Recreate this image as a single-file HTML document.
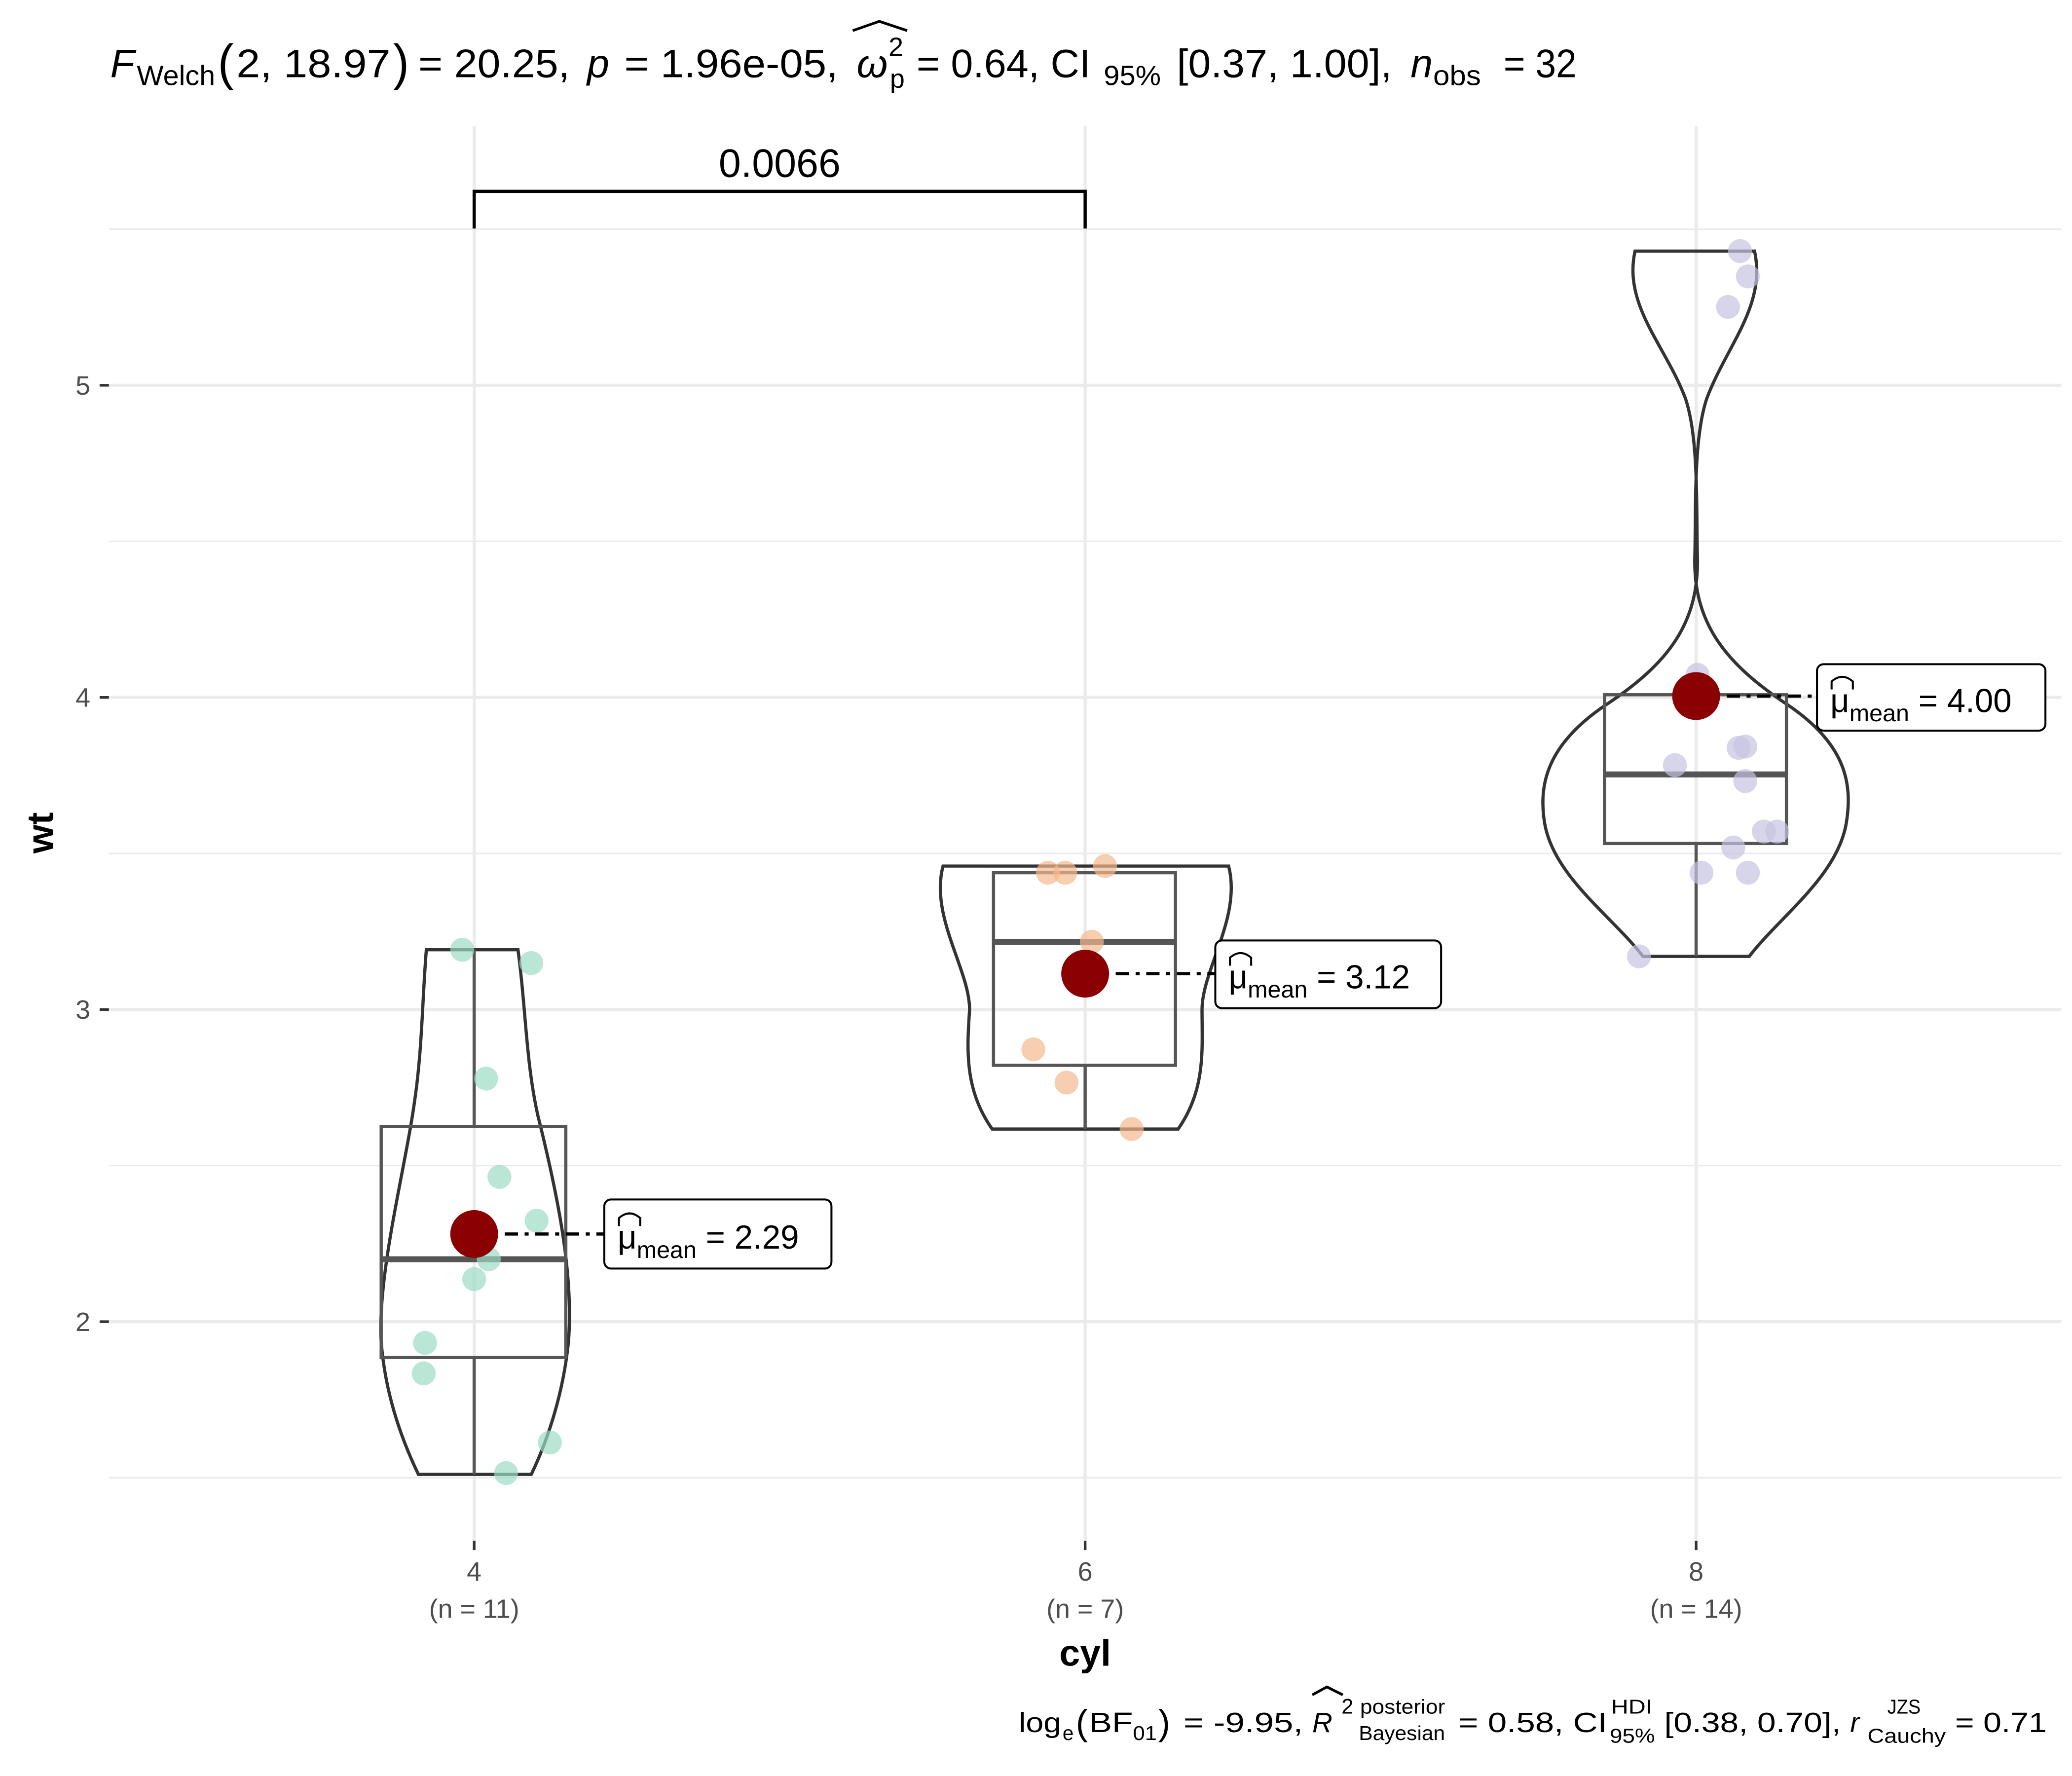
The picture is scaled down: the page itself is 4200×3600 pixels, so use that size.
<!DOCTYPE html>
<html><head><meta charset="utf-8"><style>html,body{margin:0;padding:0;background:#fff}svg{display:block}</style></head>
<body>
<svg width="4200" height="3600" viewBox="0 0 1560 1337" xmlns="http://www.w3.org/2000/svg" font-family="Liberation Sans, sans-serif">
<rect width="1560" height="1337" fill="#fff"/>
<g stroke="#ebebeb" stroke-width="1.2">
<line x1="82" x2="1552" y1="1112.5" y2="1112.5"/><line x1="82" x2="1552" y1="877.5" y2="877.5"/>
<line x1="82" x2="1552" y1="642.5" y2="642.5"/><line x1="82" x2="1552" y1="407.5" y2="407.5"/>
<line x1="82" x2="1552" y1="172.5" y2="172.5"/>
</g>
<g stroke="#ebebeb" stroke-width="2.4">
<line x1="82" x2="1552" y1="995" y2="995"/><line x1="82" x2="1552" y1="760" y2="760"/>
<line x1="82" x2="1552" y1="525" y2="525"/><line x1="82" x2="1552" y1="290" y2="290"/>
<line x1="357" x2="357" y1="95" y2="1160"/><line x1="817" x2="817" y1="95" y2="1160"/><line x1="1277" x2="1277" y1="95" y2="1160"/>
</g>
<g fill="none" stroke="#333" stroke-width="2.4">
<path d="M321,715 L390,715 C396,760 396,800 405,840 C420,900 432,960 428,1010 C424,1050 412,1085 400,1110 L315,1110 C303,1085 290,1050 287,1010 C284,960 305,880 312,830 C318,790 318,750 321,715 Z"/>
<path d="M710,652 L925,652 C935,690 905,730 905,760 C905,790 908,820 887,850 L747,850 C726,820 728,790 730,760 C730,730 700,690 710,652 Z"/>
<path d="M1231,189 L1321,189 C1330,230 1300,260 1285,300 C1275,330 1277,380 1276,420 C1275,470 1300,500 1345,530 C1390,560 1395,590 1390,620 C1383,660 1340,690 1317,720 L1237,720 C1214,690 1170,660 1163,620 C1158,590 1165,560 1210,530 C1255,500 1279,470 1278,420 C1277,380 1279,330 1269,300 C1254,260 1222,230 1231,189 Z"/>
</g>
<g fill="none" stroke="#555" stroke-width="2.4">
<rect x="287" y="848" width="139" height="174"/><line x1="357" x2="357" y1="715" y2="848"/><line x1="357" x2="357" y1="1022" y2="1110"/>
<rect x="748" y="657" width="137" height="145"/><line x1="817" x2="817" y1="802" y2="850"/>
<rect x="1208" y="523" width="137" height="112"/><line x1="1277" x2="1277" y1="635" y2="720"/>
</g>
<g stroke="#555" stroke-width="4.5">
<line x1="287" x2="426" y1="948" y2="948"/><line x1="748" x2="885" y1="709" y2="709"/><line x1="1208" x2="1345" y1="583" y2="583"/>
</g>
<g fill="#9ddbc4" fill-opacity="0.7">
<circle cx="348" cy="715" r="9"/><circle cx="400" cy="725" r="9"/><circle cx="366" cy="812" r="9"/><circle cx="376" cy="886" r="9"/><circle cx="404" cy="919" r="9"/><circle cx="368" cy="948" r="9"/><circle cx="357" cy="963" r="9"/><circle cx="320" cy="1011" r="9"/><circle cx="319" cy="1034" r="9"/><circle cx="414" cy="1086" r="9"/><circle cx="381" cy="1109" r="9"/>
</g>
<g fill="#f3b98f" fill-opacity="0.7">
<circle cx="789" cy="657" r="9"/><circle cx="802" cy="657" r="9"/><circle cx="832" cy="652" r="9"/><circle cx="822" cy="709" r="9"/><circle cx="778" cy="790" r="9"/><circle cx="803" cy="815" r="9"/><circle cx="852" cy="850" r="9"/>
</g>
<g fill="#c6c3e1" fill-opacity="0.7">
<circle cx="1310" cy="189" r="9"/><circle cx="1316" cy="208" r="9"/><circle cx="1301" cy="231" r="9"/><circle cx="1278" cy="508" r="9"/><circle cx="1309" cy="563" r="9"/><circle cx="1314" cy="562" r="9"/><circle cx="1261" cy="576" r="9"/><circle cx="1314" cy="588" r="9"/><circle cx="1328" cy="626" r="9"/><circle cx="1338" cy="626" r="9"/><circle cx="1305" cy="638" r="9"/><circle cx="1281" cy="657" r="9"/><circle cx="1316" cy="657" r="9"/><circle cx="1234" cy="720" r="9"/>
</g>
<g stroke="#000" stroke-width="2.4" stroke-dasharray="10,5,3,5">
<line x1="357" x2="455" y1="929" y2="929"/><line x1="817" x2="915" y1="733" y2="733"/><line x1="1277" x2="1368" y1="524" y2="524"/>
</g>
<g fill="#8b0000"><circle cx="357" cy="929" r="18"/><circle cx="817" cy="733" r="18"/><circle cx="1277" cy="524" r="18"/></g>
<g fill="#fff" stroke="#000" stroke-width="1.5">
<rect x="455" y="903" width="171" height="52" rx="5"/><rect x="915" y="708" width="170" height="51" rx="5"/><rect x="1368" y="500" width="172" height="50" rx="5"/>
</g>
<g font-size="25" fill="#000">
<text x="465" y="940">μ<tspan font-size="18" dy="7">mean</tspan><tspan dy="-7"> = 2.29</tspan></text>
<text x="925" y="744">μ<tspan font-size="18" dy="7">mean</tspan><tspan dy="-7"> = 3.12</tspan></text>
<text x="1378" y="536">μ<tspan font-size="18" dy="7">mean</tspan><tspan dy="-7"> = 4.00</tspan></text>
</g>
<g fill="none" stroke="#000" stroke-width="1.5">
<path d="M466,923 L466,917 Q474,910 482,917 L482,923"/><path d="M926,727 L926,721 Q934,714 942,721 L942,727"/><path d="M1379,519 L1379,513 Q1387,506 1395,513 L1395,519"/>
</g>
<path d="M357,172 V144 H817 V172" fill="none" stroke="#000" stroke-width="2.4"/>
<text x="587" y="133" font-size="30" text-anchor="middle">0.0066</text>
<g stroke="#333" stroke-width="2"><line x1="75" x2="82" y1="995" y2="995"/><line x1="75" x2="82" y1="760" y2="760"/><line x1="75" x2="82" y1="525" y2="525"/><line x1="75" x2="82" y1="290" y2="290"/>
<line x1="357" x2="357" y1="1160" y2="1167"/><line x1="817" x2="817" y1="1160" y2="1167"/><line x1="1277" x2="1277" y1="1160" y2="1167"/></g>
<g font-size="20" fill="#4d4d4d" text-anchor="end"><text x="68" y="1002">2</text><text x="68" y="767">3</text><text x="68" y="532">4</text><text x="68" y="297">5</text></g>
<g font-size="20" fill="#4d4d4d" text-anchor="middle">
<text x="357" y="1190">4</text><text x="357" y="1218">(n = 11)</text>
<text x="817" y="1190">6</text><text x="817" y="1218">(n = 7)</text>
<text x="1277" y="1190">8</text><text x="1277" y="1218">(n = 14)</text>
</g>
<text x="817" y="1254" font-size="28" font-weight="bold" text-anchor="middle">cyl</text>
<text transform="translate(40,627) rotate(-90)" font-size="28" font-weight="bold" text-anchor="middle">wt</text>
<!-- title -->
<g font-size="30" fill="#000">
<text x="83" y="58" font-style="italic">F</text>
<text x="103" y="64" font-size="21" textLength="59" lengthAdjust="spacingAndGlyphs">Welch</text>
<text x="164" y="60" font-size="38" textLength="12" lengthAdjust="spacingAndGlyphs">(</text>
<text x="178" y="58" textLength="116" lengthAdjust="spacingAndGlyphs">2, 18.97</text>
<text x="296" y="60" font-size="38" textLength="12" lengthAdjust="spacingAndGlyphs">)</text>
<text x="315" y="58" textLength="114" lengthAdjust="spacingAndGlyphs">= 20.25,</text>
<text x="442" y="58" font-style="italic">p</text>
<text x="470" y="58" textLength="161" lengthAdjust="spacingAndGlyphs">= 1.96e-05,</text>
<text x="645" y="58" font-style="italic">ω</text>
<text x="669" y="42" font-size="20">2</text>
<text x="670" y="66" font-size="20">p</text>
<text x="690" y="58" textLength="131" lengthAdjust="spacingAndGlyphs">= 0.64, CI</text>
<text x="831" y="64" font-size="21" textLength="43" lengthAdjust="spacingAndGlyphs">95%</text>
<text x="886" y="58" textLength="162" lengthAdjust="spacingAndGlyphs">[0.37, 1.00],</text>
<text x="1062" y="58" font-style="italic">n</text>
<text x="1079" y="64" font-size="21" textLength="36" lengthAdjust="spacingAndGlyphs">obs</text>
<text x="1132" y="58" textLength="55" lengthAdjust="spacingAndGlyphs">= 32</text>
</g>
<path d="M642,23 L662,16 L683,23" fill="none" stroke="#000" stroke-width="2"/>
<!-- caption -->
<g font-size="21" fill="#000">
<text x="767" y="1304" textLength="32" lengthAdjust="spacingAndGlyphs">log</text>
<text x="800" y="1310" font-size="15">e</text>
<text x="810" y="1306" font-size="27">(</text>
<text x="820" y="1304" textLength="33" lengthAdjust="spacingAndGlyphs">BF</text>
<text x="853" y="1310" font-size="15" textLength="18" lengthAdjust="spacingAndGlyphs">01</text>
<text x="872" y="1306" font-size="27">)</text>
<text x="891" y="1304" textLength="90" lengthAdjust="spacingAndGlyphs">= -9.95,</text>
<text x="988" y="1304" font-style="italic">R</text>
<text x="1010" y="1290" font-size="16">2</text>
<text x="1024" y="1290" font-size="15" textLength="64" lengthAdjust="spacingAndGlyphs">posterior</text>
<text x="1023" y="1310" font-size="15" textLength="65" lengthAdjust="spacingAndGlyphs">Bayesian</text>
<text x="1098" y="1304" textLength="112" lengthAdjust="spacingAndGlyphs">= 0.58, CI</text>
<text x="1213" y="1290" font-size="15" textLength="31" lengthAdjust="spacingAndGlyphs">HDI</text>
<text x="1212" y="1312" font-size="15" textLength="34" lengthAdjust="spacingAndGlyphs">95%</text>
<text x="1253" y="1304" textLength="133" lengthAdjust="spacingAndGlyphs">[0.38, 0.70],</text>
<text x="1393" y="1304" font-style="italic">r</text>
<text x="1421" y="1290" font-size="15" textLength="25" lengthAdjust="spacingAndGlyphs">JZS</text>
<text x="1406" y="1312" font-size="15" textLength="59" lengthAdjust="spacingAndGlyphs">Cauchy</text>
<text x="1472" y="1304" textLength="69" lengthAdjust="spacingAndGlyphs">= 0.71</text>
</g>
<path d="M988,1276 L999,1270 L1011,1276" fill="none" stroke="#000" stroke-width="2"/>
</svg>
</body></html>
